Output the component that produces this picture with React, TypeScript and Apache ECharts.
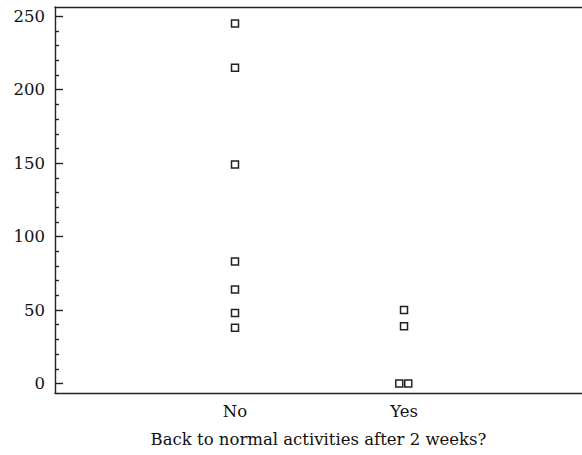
import React, { useEffect, useRef } from "react";
import * as echarts from "echarts";

const categories = ["No", "Yes"];
const categoryPos = [1, 2];
// points: group position + jitter, value
const noValues = [245, 215, 149, 83, 64, 48, 38];
const noJitter = [0, 0, 0, 0, 0, 0, 0];
const yesValues = [50, 39, 0, 0];
const yesJitter = [0, 0, -0.028, 0.025];
const majorTicks = [0, 50, 100, 150, 200, 250];
const minorTicks = [10, 20, 30, 40, 60, 70, 80, 90, 110, 120, 130, 140, 160, 170, 180, 190, 210, 220, 230, 240];

const FONT = "DejaVu Serif";
const FS = 16.5;

export default function App() {
  const ref = useRef<HTMLDivElement>(null);
  useEffect(() => {
    const chart = echarts.init(ref.current!, null, { renderer: "svg" });
    const pts: number[][] = [];
    noValues.forEach((v, i) => pts.push([categoryPos[0] + noJitter[i], v]));
    yesValues.forEach((v, i) => pts.push([categoryPos[1] + yesJitter[i], v]));
    const yMin = -6.5;
    const yMax = 256.3;
    const xMin = -0.065;
    const xMax = 3.053;
    const lineStyle = { color: "#222", width: 1.4 };
    chart.setOption({
      animation: false,
      grid: { left: 55, right: 0, top: 7, bottom: 62, containLabel: false, outerBoundsMode: "none" },
      xAxis: [
        {
          type: "value",
          min: xMin,
          max: xMax,
          position: "bottom",
          splitLine: { show: false },
          axisLine: { show: true, onZero: false, lineStyle },
          axisTick: { show: false },
          axisLabel: {
            customValues: categoryPos,
            formatter: (v: number) => categories[categoryPos.indexOf(Math.round(v))] ?? "",
            fontFamily: FONT,
            fontSize: FS,
            color: "#111",
            margin: 10,
          },
          name: "Back to normal activities after 2 weeks?",
          nameLocation: "middle",
          nameGap: 38,
          nameTextStyle: { fontFamily: FONT, fontSize: FS, color: "#111" },
        },
        {
          type: "value",
          min: xMin,
          max: xMax,
          position: "top",
          splitLine: { show: false },
          axisLine: { show: true, onZero: false, lineStyle },
          axisTick: { show: false },
          axisLabel: { show: false },
        },
      ],
      yAxis: [
        {
          type: "value",
          min: yMin,
          max: yMax,
          position: "left",
          splitLine: { show: false },
          axisLine: { show: true, onZero: false, lineStyle },
          axisTick: { show: true, inside: true, length: 8, customValues: majorTicks, lineStyle },
          axisLabel: {
            customValues: majorTicks,
            fontFamily: FONT,
            fontSize: FS,
            color: "#111",
            margin: 10,
          },
        },
        {
          type: "value",
          min: yMin,
          max: yMax,
          position: "left",
          splitLine: { show: false },
          axisLine: { show: false, onZero: false },
          axisTick: { show: true, inside: true, length: 4, customValues: minorTicks, lineStyle },
          axisLabel: { show: false },
        },
      ],
      series: [
        {
          type: "scatter",
          data: pts,
          symbol: "rect",
          symbolSize: 7,
          itemStyle: { color: "#fff", borderColor: "#222", borderWidth: 1.5, opacity: 1 },
        },
      ],
    });
    return () => chart.dispose();
  }, []);
  return <div ref={ref} style={{ width: 582, height: 455, position: "absolute", left: 0, top: 0 }} />;
}
